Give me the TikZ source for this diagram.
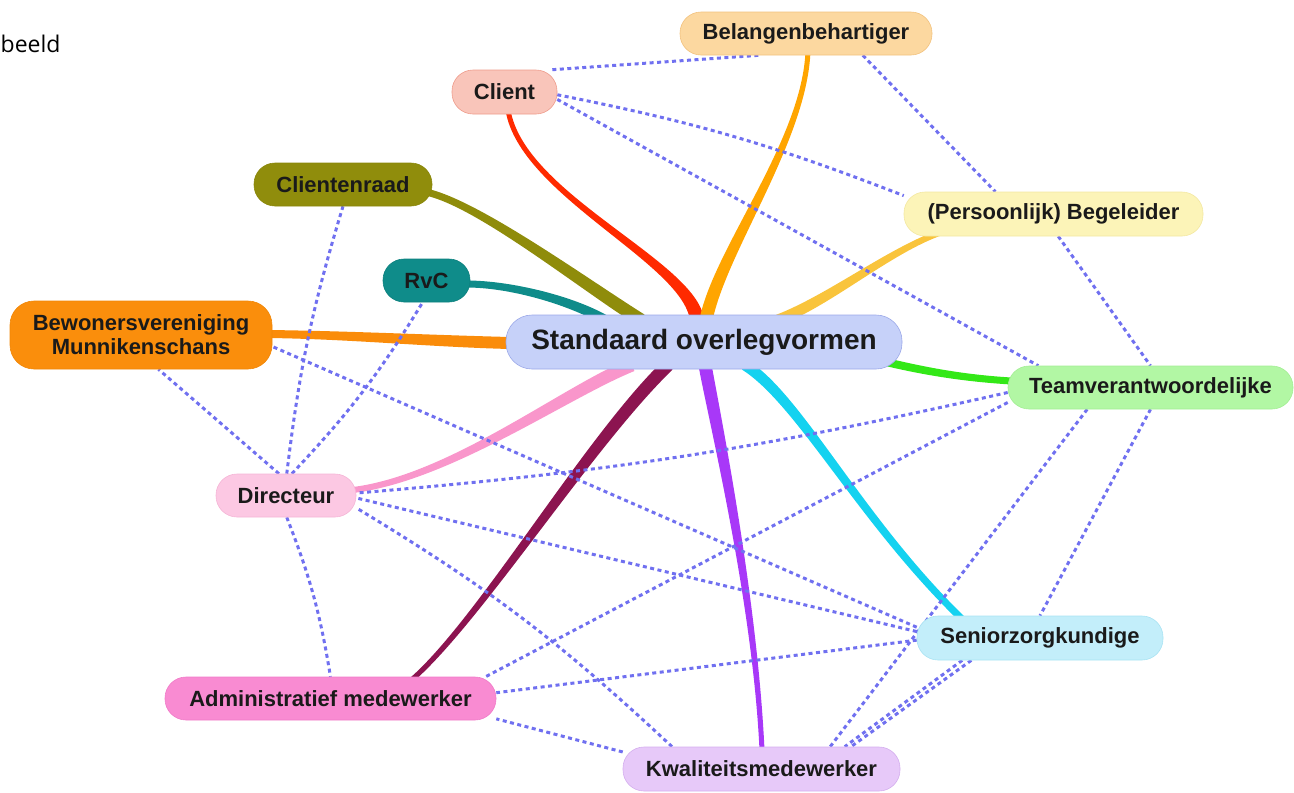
\documentclass[tikz,border=0pt]{standalone}
\usepackage{fontspec}
\setmainfont{Liberation Sans}
\newfontfamily\notefont{Open Sans}
\usetikzlibrary{calc,backgrounds}

\definecolor{txt}{HTML}{1A1A1A}
\definecolor{dotc}{HTML}{7070F0}
% node fills / borders
\definecolor{fBel}{HTML}{FCD8A0}\definecolor{dBel}{HTML}{F2C27E}
\definecolor{fCli}{HTML}{F9C5BA}\definecolor{dCli}{HTML}{EE9C8C}
\definecolor{fRaad}{HTML}{908D0C}\definecolor{dRaad}{HTML}{8A870A}
\definecolor{fBeg}{HTML}{FCF4B8}\definecolor{dBeg}{HTML}{F3E8A2}
\definecolor{fRvc}{HTML}{0F8C8A}\definecolor{dRvc}{HTML}{0D807E}
\definecolor{fBew}{HTML}{FA8E0C}\definecolor{dBew}{HTML}{F08708}
\definecolor{fStd}{HTML}{C6D1F9}\definecolor{dStd}{HTML}{9BA8E8}
\definecolor{fTeam}{HTML}{B2F7A4}\definecolor{dTeam}{HTML}{A3EE94}
\definecolor{fDir}{HTML}{FCC8E3}\definecolor{dDir}{HTML}{F5B5D6}
\definecolor{fSen}{HTML}{C3EEFA}\definecolor{dSen}{HTML}{A9E3F3}
\definecolor{fAdm}{HTML}{F98BD2}\definecolor{dAdm}{HTML}{F07BC8}
\definecolor{fKwa}{HTML}{E7C9F9}\definecolor{dKwa}{HTML}{D4AEEE}
% branch colours
\definecolor{bRed}{HTML}{FF2A00}
\definecolor{bOra}{HTML}{FFA500}
\definecolor{bOli}{HTML}{8F8C0B}
\definecolor{bTea}{HTML}{0F8C8A}
\definecolor{bGol}{HTML}{F9C43C}
\definecolor{bBew}{HTML}{FA8C0A}
\definecolor{bGre}{HTML}{33E817}
\definecolor{bPin}{HTML}{F996CB}
\definecolor{bMar}{HTML}{8C1450}
\definecolor{bPur}{HTML}{A838F8}
\definecolor{bCya}{HTML}{14D2F0}

\newcommand\mmbranch[7]{%
  \coordinate (bS) at (#2);
  \coordinate (bA) at (#3);
  \coordinate (bB) at (#4);
  \coordinate (bE) at (#5);
  \coordinate (bSl) at ($(bS)!#6!90:(bA)$);
  \coordinate (bSr) at ($(bS)!#6!-90:(bA)$);
  \coordinate (bEl) at ($(bE)!#7!-90:(bB)$);
  \coordinate (bEr) at ($(bE)!#7!90:(bB)$);
  \fill[#1] (bSl) .. controls ($(bA)+(bSl)-(bS)$) and ($(bB)+(bEl)-(bE)$) .. (bEl)
    -- (bEr) .. controls ($(bB)+(bEr)-(bE)$) and ($(bA)+(bSr)-(bS)$) .. (bSr) -- cycle;
}

\tikzset{
  box/.style={rounded corners=21pt, draw, line width=0.6pt, text=txt,
    font=\bfseries\fontsize{22}{26}\selectfont, minimum height=43pt, inner sep=0pt},
  rel/.style={draw=dotc, line width=3pt, dash pattern=on 4pt off 3.5pt},
}

\begin{document}
\begin{tikzpicture}[x=1pt,y=-1pt]
\useasboundingbox (0,0) rectangle (1294,793);
\clip (0,0) rectangle (1294,793);

\node[anchor=base west, font=\notefont\fontsize{23}{28}\selectfont, text=black, inner sep=0pt] (note) at (0.5,52) {beeld};

\node[box, fill=fBel, draw=dBel, minimum width=252pt] (bel) at (806,33.5) {Belangenbehartiger};
\node[box, fill=fCli, draw=dCli, minimum width=105pt, minimum height=44pt] (cli) at (504.5,92) {Client};
\node[box, fill=fRaad, draw=dRaad, minimum width=178pt] (raad) at (343,184.5) {Clientenraad};
\node[box, fill=fBeg, draw=dBeg, minimum width=299pt, minimum height=44pt] (beg) at (1053.5,214) {(Persoonlijk) Begeleider};
\node[box, fill=fRvc, draw=dRvc, minimum width=87pt] (rvc) at (426.5,280.5) {RvC};
\node[box, fill=fBew, draw=dBew, minimum width=262pt, minimum height=68pt, rounded corners=24pt, align=center, font=\bfseries\fontsize{22}{24}\selectfont] (bew) at (141,335) {Bewonersvereniging\\Munnikenschans};
\node[box, fill=fStd, draw=dStd, minimum width=396pt, minimum height=54pt, rounded corners=26pt, font=\bfseries\fontsize{28}{32}\selectfont] (std) at (704,342) {Standaard overlegvormen};
\node[box, fill=fTeam, draw=dTeam, minimum width=285pt] (team) at (1150.5,387.5) {Teamverantwoordelijke};
\node[box, fill=fDir, draw=dDir, minimum width=140pt] (dir) at (286,495.5) {Directeur};
\node[box, fill=fSen, draw=dSen, minimum width=246pt, minimum height=44pt] (sen) at (1040,638) {Seniorzorgkundige};
\node[box, fill=fAdm, draw=dAdm, minimum width=331pt] (adm) at (330.5,698.5) {Administratief medewerker};
\node[box, fill=fKwa, draw=dKwa, minimum width=277pt, minimum height=44pt] (kwa) at (761.5,769) {Kwaliteitsmedewerker};

\begin{pgfonlayer}{background}
% thick branches
\mmbranch{bRed}{$(std.center)+(-7,-22)$}{690,262}{522,195}{$(cli.center)+(3.5,18)$}{7pt}{2.5pt}
\mmbranch{bOra}{$(std.center)+(2,-22)$}{720,250}{805,140}{$(bel.center)+(2,17)$}{6.5pt}{2.5pt}
\mmbranch{bOli}{$(std.center)+(-63,-22)$}{585,285}{480,205}{$(raad.center)+(85,8)$}{6.5pt}{3.5pt}
\mmbranch{bTea}{$(std.center)+(-99,-22)$}{570,300}{510,284}{$(rvc.center)+(40,3.5)$}{5pt}{3.5pt}
\mmbranch{bGol}{$(std.center)+(74,-22)$}{830,300}{890,250}{$(beg.center)+(-111.5,18)$}{5.5pt}{3pt}
\mmbranch{bBew}{$(std.center)+(-194,1)$}{430,341}{350,335}{$(bew.center)+(127,-1)$}{6pt}{4pt}
\mmbranch{bGre}{$(std.center)+(182,20)$}{920,370}{960,378}{$(team.center)+(-139,-6.5)$}{4pt}{3.5pt}
\mmbranch{bPin}{$(std.center)+(-72,23)$}{565,392}{450,478}{$(dir.center)+(67,-5.5)$}{6.5pt}{3pt}
\mmbranch{bMar}{$(std.center)+(-36,23)$}{590,440}{480,620}{$(adm.center)+(81.5,-19)$}{6.5pt}{2.5pt}
\mmbranch{bPur}{$(std.center)+(1,23)$}{715,420}{755,600}{$(kwa.center)+(0.5,-19)$}{6.5pt}{2.5pt}
\mmbranch{bCya}{$(std.center)+(41,23)$}{800,400}{860,520}{$(sen.center)+(-78,-19)$}{5.5pt}{3.5pt}

% dotted relations
\draw[rel] (cli.25) -- (bel.205);
\draw[rel] (cli.-3) to[bend left=5] (beg.173);
\draw[rel] (cli.-8) -- (team.169.5);
\draw[rel] (bel.339) -- (beg.159.4);
\draw[rel] (beg.282) -- (team.90);
\draw[rel] (team.270) -- (sen.90);
\draw[rel] (team.199.6) -- (kwa.18.8);
\draw[rel] (team.186.6) -- (adm.8.5);
\draw[rel] (team.182.6) to[bend left=4] (dir.2.8);
\draw[rel] (sen.196) -- (kwa.15.8);
\draw[rel] (sen.198) -- (kwa.14.3);
\draw[rel] (sen.181.9) -- (adm.2.9);
\draw[rel] (sen.177) -- (dir.-2);
\draw[rel] (sen.175.5) -- (bew.-5.6);
\draw[rel] (kwa.173.2) -- (adm.-7.1);
\draw[rel] (kwa.166.3) to[bend right=6] (dir.-10.3);
\draw[rel] (dir.272) to[bend left=6] (adm.90);
\draw[rel] (dir.108.8) -- (bew.-63.4);
\draw[rel] (dir.88) to[bend left=5] (raad.270);
\draw[rel] (dir.75.7) to[bend right=6] (rvc.260.8);
\end{pgfonlayer}
\end{tikzpicture}
\end{document}
